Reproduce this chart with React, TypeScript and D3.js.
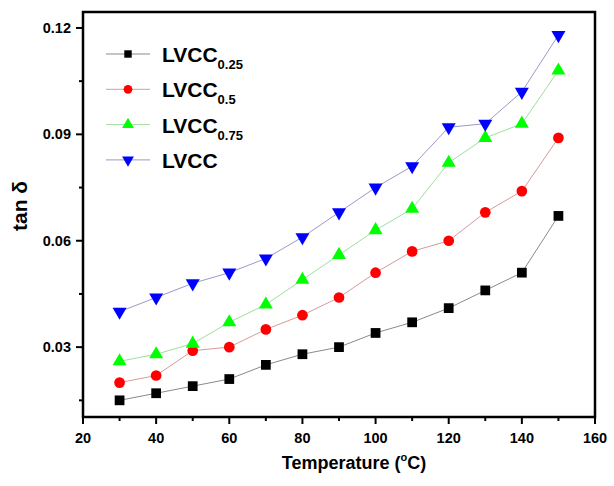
import { useEffect, useRef } from 'react';
import * as d3 from 'd3';

const temps = [30, 40, 50, 60, 70, 80, 90, 100, 110, 120, 130, 140, 150];
const lvcc025 = [0.015, 0.017, 0.019, 0.021, 0.025, 0.028, 0.030, 0.034, 0.037, 0.041, 0.046, 0.051, 0.067];
const lvcc05 = [0.020, 0.022, 0.029, 0.030, 0.035, 0.039, 0.044, 0.051, 0.057, 0.060, 0.068, 0.074, 0.089];
const lvcc075 = [0.026, 0.028, 0.031, 0.037, 0.042, 0.049, 0.056, 0.063, 0.069, 0.082, 0.089, 0.093, 0.108];
const lvcc = [0.040, 0.044, 0.048, 0.051, 0.055, 0.061, 0.068, 0.075, 0.081, 0.092, 0.093, 0.102, 0.118];

const xTicks = [20, 40, 60, 80, 100, 120, 140, 160];
const yTicks = [0.03, 0.06, 0.09, 0.12];

const series = [
  { name: 'LVCC', sub: '0.25', values: lvcc025, color: '#000000', line: '#8a8a8a', shape: 'square' },
  { name: 'LVCC', sub: '0.5', values: lvcc05, color: '#ff0000', line: '#d89a9a', shape: 'circle' },
  { name: 'LVCC', sub: '0.75', values: lvcc075, color: '#00ff00', line: '#9ce09c', shape: 'triangle' },
  { name: 'LVCC', sub: '', values: lvcc, color: '#0000ff', line: '#9a9ac8', shape: 'down' },
];

const font = 'Arial, "Liberation Sans", sans-serif';

export default function App() {
  const svgRef = useRef<SVGSVGElement>(null);

  useEffect(() => {
    if (!svgRef.current) return;
    const svg = d3.select(svgRef.current);
    svg.selectAll('*').remove();

    const left = 83, right = 595, top = 12, bottom = 417;
    const x = d3.scaleLinear().domain([20, 160]).range([left, right]);
    const y = d3.scaleLinear().domain([0.0103, 0.1245]).range([bottom, top]);

    const sym = (shape: string) => {
      if (shape === 'square') return d3.symbol(d3.symbolSquare, 95)();
      if (shape === 'circle') return d3.symbol(d3.symbolCircle, 90)();
      return d3.symbol(d3.symbolTriangle, 85)();
    };

    // series
    series.forEach(s => {
      const line = d3.line<number>().x((_, i) => x(temps[i])).y(d => y(d));
      svg.append('path')
        .attr('d', line(s.values))
        .attr('fill', 'none')
        .attr('stroke', s.line)
        .attr('stroke-width', 1);
      svg.selectAll(null)
        .data(s.values)
        .enter()
        .append('path')
        .attr('d', sym(s.shape))
        .attr('transform', (d, i) => `translate(${x(temps[i])},${y(d)})${s.shape === 'down' ? ' rotate(180)' : ''}`)
        .attr('fill', s.color);
    });

    // axes frame
    svg.append('rect')
      .attr('x', left).attr('y', top)
      .attr('width', right - left).attr('height', bottom - top)
      .attr('fill', 'none').attr('stroke', '#000').attr('stroke-width', 2.5);

    // x ticks
    const xMinor = d3.range(30, 160, 20);
    xTicks.forEach(t => {
      svg.append('line').attr('x1', x(t)).attr('x2', x(t)).attr('y1', bottom).attr('y2', bottom + 7)
        .attr('stroke', '#000').attr('stroke-width', 2);
      svg.append('text').attr('x', x(t)).attr('y', bottom + 26)
        .attr('text-anchor', 'middle').attr('font-family', font).attr('font-weight', 'bold')
        .attr('font-size', 14.5).text(t);
    });
    xMinor.forEach(t => {
      svg.append('line').attr('x1', x(t)).attr('x2', x(t)).attr('y1', bottom).attr('y2', bottom + 4)
        .attr('stroke', '#000').attr('stroke-width', 2);
    });

    // y ticks
    const yMinor = [0.015, 0.045, 0.075, 0.105];
    yTicks.forEach(t => {
      svg.append('line').attr('x1', left).attr('x2', left - 7).attr('y1', y(t)).attr('y2', y(t))
        .attr('stroke', '#000').attr('stroke-width', 2);
      svg.append('text').attr('x', left - 12).attr('y', y(t) + 5)
        .attr('text-anchor', 'end').attr('font-family', font).attr('font-weight', 'bold')
        .attr('font-size', 14.5).text(d3.format('.2f')(t));
    });
    yMinor.forEach(t => {
      svg.append('line').attr('x1', left).attr('x2', left - 4).attr('y1', y(t)).attr('y2', y(t))
        .attr('stroke', '#000').attr('stroke-width', 2);
    });

    // axis labels
    const xl = svg.append('text').attr('x', 354).attr('y', 469)
      .attr('text-anchor', 'middle').attr('font-family', font).attr('font-weight', 'bold')
      .attr('font-size', 18);
    xl.append('tspan').text('Temperature (');
    xl.append('tspan').attr('font-size', 11).attr('dy', -8).text('o');
    xl.append('tspan').attr('dy', 8).text('C)');

    svg.append('text')
      .attr('transform', `translate(27,206) rotate(-90)`)
      .attr('text-anchor', 'middle').attr('font-family', font).attr('font-weight', 'bold')
      .attr('font-size', 21).text('tan δ');

    // legend
    series.forEach((s, i) => {
      const ly = 54 + i * 35.3;
      svg.append('line').attr('x1', 106).attr('x2', 150).attr('y1', ly).attr('y2', ly)
        .attr('stroke', s.line).attr('stroke-width', 1);
      svg.append('path')
        .attr('d', s.shape === 'square' ? d3.symbol(d3.symbolSquare, 55)() :
          s.shape === 'circle' ? d3.symbol(d3.symbolCircle, 60)() : d3.symbol(d3.symbolTriangle, 60)())
        .attr('transform', `translate(128,${ly})${s.shape === 'down' ? ' rotate(180)' : ''}`)
        .attr('fill', s.color);
      const t = svg.append('text').attr('x', 162).attr('y', ly + 8)
        .attr('font-family', font).attr('font-weight', 'bold').attr('font-size', 21);
      t.append('tspan').text(s.name);
      if (s.sub) t.append('tspan').attr('font-size', 13).attr('dy', 7).text(s.sub);
    });
  }, []);

  return (
    <svg ref={svgRef} width={614} height={486}
      style={{ position: 'absolute', left: 0, top: 0, background: '#fff' }} />
  );
}
